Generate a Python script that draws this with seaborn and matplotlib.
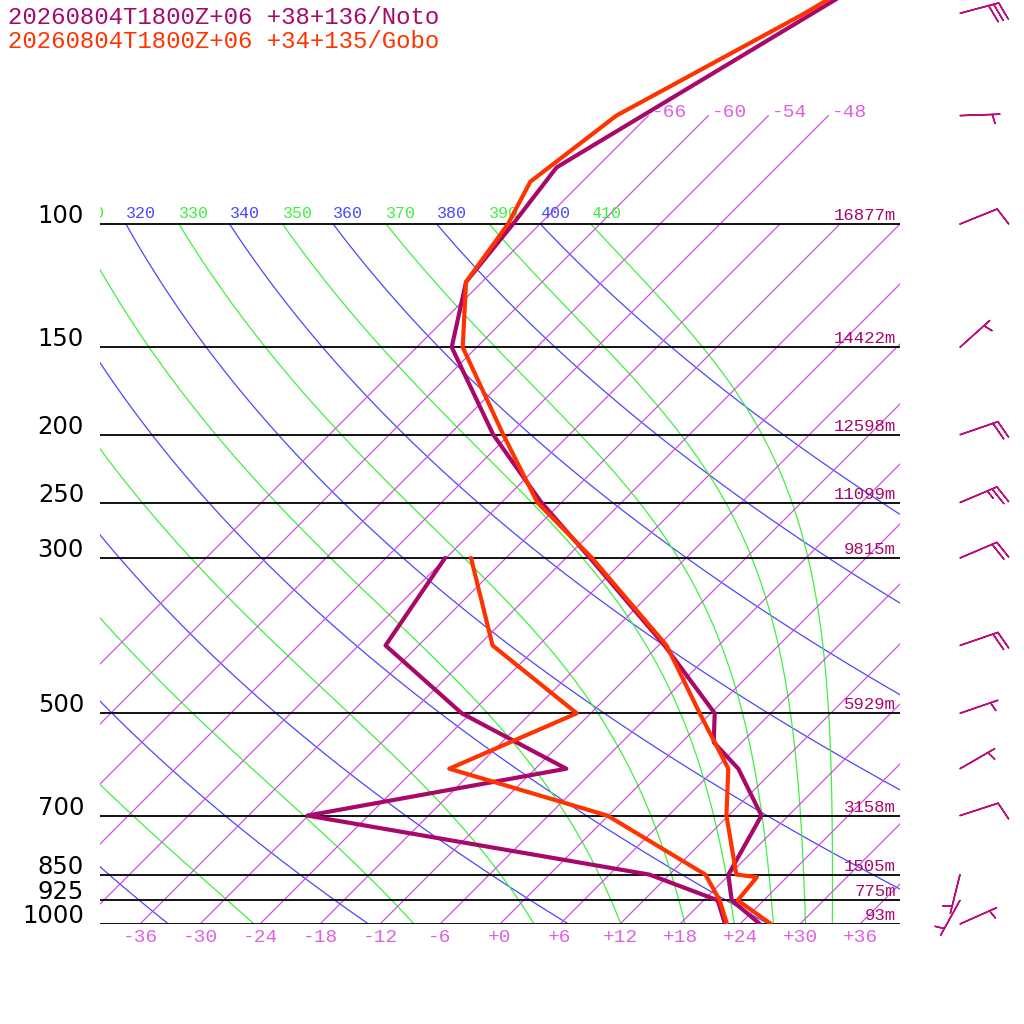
import numpy as np
import pandas as pd
import matplotlib
matplotlib.use("Agg")
import matplotlib.pyplot as plt
import matplotlib.transforms as mtransforms
import seaborn as sns

# ---------------- data ----------------
title_noto = "20260804T1800Z+06 +38+136/Noto"
title_gobo = "20260804T1800Z+06 +34+135/Gobo"

noto_t_p = [1000, 925, 850, 700, 600, 550, 500, 400, 300, 250, 200, 150, 121, 100, 83, 50, 30]
noto_t = [26.0, 20.8, 17.9, 15.3, 8.3, 3.2, 0.4, -11.4, -27.6, -38.0, -49.6, -62.5, -67.6, -68.7, -70.0, -59.8, -49.5]
noto_td_p = [1000, 925, 850, 700, 600, 500, 400, 300]
noto_td = [22.5, 19.4, 10.0, -30.1, -8.9, -24.9, -39.3, -42.1]

gobo_t_p = [1000, 925, 857, 850, 700, 600, 500, 400, 300, 250, 200, 150, 121, 100, 87, 70, 50, 30]
gobo_t = [27.1, 21.4, 21.0, 18.7, 11.8, 7.3, -1.1, -11.2, -27.4, -38.4, -48.6, -61.4, -67.6, -69.2, -71.2, -69.2, -60.6, -49.9]
gobo_td_p = [1000, 925, 850, 700, 600, 500, 400, 300]
gobo_td = [22.7, 19.6, 15.6, -0.1, -20.6, -13.4, -28.6, -39.5]

wind_p = [50, 70, 100, 150, 200, 250, 300, 400, 500, 600, 700, 850, 925, 1000]
wind_spd = [30, 5, 10, 5, 20, 25, 20, 20, 5, 5, 10, 5, 5, 5]
wind_dir = [75, 88, 68, 48, 71, 67, 67, 71, 71, 60, 72, 194, 209, 66]

isobar_levels = [1000, 925, 850, 700, 500, 300, 250, 200, 150, 100]
isobar_heights = ["93m", "775m", "1505m", "3158m", "5929m", "9815m", "11099m", "12598m", "14422m", "16877m"]
isotherm_values = list(range(-66, 37, 6))
isotherm_top_labels = [-66, -60, -54, -48]
bottom_temp_labels = [-36, -30, -24, -18, -12, -6, 0, 6, 12, 18, 24, 30, 36]
dry_thetas = [240, 260, 280, 300, 320, 340, 360, 380, 400]
moist_thetas = [250, 270, 290, 310, 330, 350, 370, 390, 410]

# ---------------- style ----------------
NOTO_C = "#A8086A"
GOBO_C = "#FF3300"
BARB_C = "#B8127A"
ISO_C = "#D048E4"
ISO_LBL = "#E060E0"
DRY_C = "#4848FF"
MOIST_C = "#40F040"
MONO = "Liberation Mono"

sns.set_theme(style="white")
plt.rcParams["font.family"] = ["DejaVu Sans"]

SKEW = 30.4
P_TOP = 1000 * np.exp(-924 / 304.0)


def skew(t, p):
    return np.asarray(t, float) + SKEW * np.log(1000.0 / np.asarray(p, float))


def theta_e(tk, p):
    tc = tk - 273.15
    es = 6.112 * np.exp(17.67 * tc / (tc + 243.5))
    es = np.minimum(es, 0.5 * p)
    r = 622.0 * es / (p - es)
    return tk * (1000.0 / p) ** (0.2854 * (1 - 0.00028 * r)) * np.exp(
        (3.376 / tk - 0.00254) * r * (1 + 0.00081 * r))


def moist_T(the, p):
    lo = np.full_like(p, 120.0)
    hi = np.full_like(p, 340.0)
    for _ in range(60):
        mid = 0.5 * (lo + hi)
        f = theta_e(mid, p) > the
        hi = np.where(f, mid, hi)
        lo = np.where(f, lo, mid)
    return 0.5 * (lo + hi) - 273.15


fig = plt.figure(figsize=(10.24, 10.24), dpi=100)
ax = fig.add_axes([100 / 1024, 100 / 1024, 800 / 1024, 924 / 1024])
ax.set_yscale("log")
ax.set_xlim(-40, 40)
ax.set_ylim(1000, P_TOP)
ax.set_axis_off()


def off(tr, dx, dy):
    return mtransforms.offset_copy(tr, fig=fig, x=dx, y=dy, units="dots")


pp = np.geomspace(1000, 100, 120)
# dry adiabats
for th in dry_thetas:
    t = th * (pp / 1000.0) ** 0.2857 - 273.15
    ax.plot(skew(t, pp), pp, color=DRY_C, lw=0.9, zorder=1)
    x100 = skew(t[-1], 100)
    if x100 > -46:
        ax.text(x100, 100, f"{th}", color=DRY_C, fontsize=12, family=MONO,
                ha="left", va="baseline", transform=off(ax.transData, 0, 6), clip_on=True)
# moist adiabats
for th in moist_thetas:
    t = moist_T(th, pp)
    ax.plot(skew(t, pp), pp, color=MOIST_C, lw=0.9, zorder=1)
    x100 = skew(t[-1], 100)
    if x100 > -46:
        ax.text(x100, 100, f"{th}", color=MOIST_C, fontsize=12, family=MONO,
                ha="left", va="baseline", transform=off(ax.transData, 0, 6), clip_on=True)
# isotherms
for tv in isotherm_values:
    ptop = 70 if tv in isotherm_top_labels else 100
    pl = np.array([1000.0, ptop])
    ax.plot(skew([tv, tv], pl), pl, color=ISO_C, lw=0.85, zorder=1)
    if tv in isotherm_top_labels:
        ax.text(skew(tv, 70), 70, f"{tv:+d}", color=ISO_LBL, fontsize=14, family=MONO,
                ha="left", va="baseline", transform=off(ax.transData, 3, -1))
# isobars
ax.hlines(isobar_levels, -40, 40, color="black", lw=1.3, zorder=2)
lab_tr = mtransforms.blended_transform_factory(ax.transAxes, ax.transData)
for p, h in zip(isobar_levels, isobar_heights):
    ax.text(-0.02, p, f"{p}", color="black", fontsize=17.5, family="DejaVu Sans",
            ha="right", va="baseline", transform=off(lab_tr, 0, 1))
    ax.text(39.6, p, h, color=NOTO_C, fontsize=12.5, family=MONO,
            ha="right", va="baseline", transform=off(ax.transData, 0, 4))
bot_tr = mtransforms.blended_transform_factory(ax.transData, ax.transAxes)
for tv in bottom_temp_labels:
    ax.text(tv, 0, f"{tv:+d}", color=ISO_LBL, fontsize=14, family=MONO,
            ha="center", va="center", transform=off(bot_tr, 0, -14))

# profiles
frames = []
for name, tt, pl in [("Gobo T", gobo_t, gobo_t_p), ("Gobo Td", gobo_td, gobo_td_p),
                     ("Noto T", noto_t, noto_t_p), ("Noto Td", noto_td, noto_td_p)]:
    frames.append(pd.DataFrame({"X": skew(tt, pl), "p": pl, "line": name}))
df = pd.concat(frames, ignore_index=True)
palette = {"Noto T": NOTO_C, "Noto Td": NOTO_C, "Gobo T": GOBO_C, "Gobo Td": GOBO_C}
for name in ["Noto T", "Noto Td", "Gobo T", "Gobo Td"]:
    sns.lineplot(data=df[df["line"] == name], x="X", y="p", color=palette[name],
                 estimator=None, sort=False, lw=3, ax=ax, legend=False, zorder=5)
ax.set_xlim(-40, 40)
ax.set_ylim(1000, P_TOP)
ax.set_axis_off()

# wind barbs
spd = np.array(wind_spd, float)
d = np.deg2rad(wind_dir)
u = -spd * np.sin(d)
v = -spd * np.cos(d)
ax.barbs(np.full(len(wind_p), 46.0), wind_p, u, v, length=7.6, barbcolor=BARB_C,
         flagcolor=BARB_C, linewidth=1.1, clip_on=False, zorder=6,
         sizes=dict(spacing=0.13, height=0.45, width=0.25))

# titles
fig.text(8 / 1024, 1 - 17 / 1024, title_noto, color=NOTO_C, fontsize=17.3, family=MONO,
         ha="left", va="center")
fig.text(8 / 1024, 1 - 41 / 1024, title_gobo, color=GOBO_C, fontsize=17.3, family=MONO,
         ha="left", va="center")

fig.savefig("out.png", dpi=100, facecolor="white")
